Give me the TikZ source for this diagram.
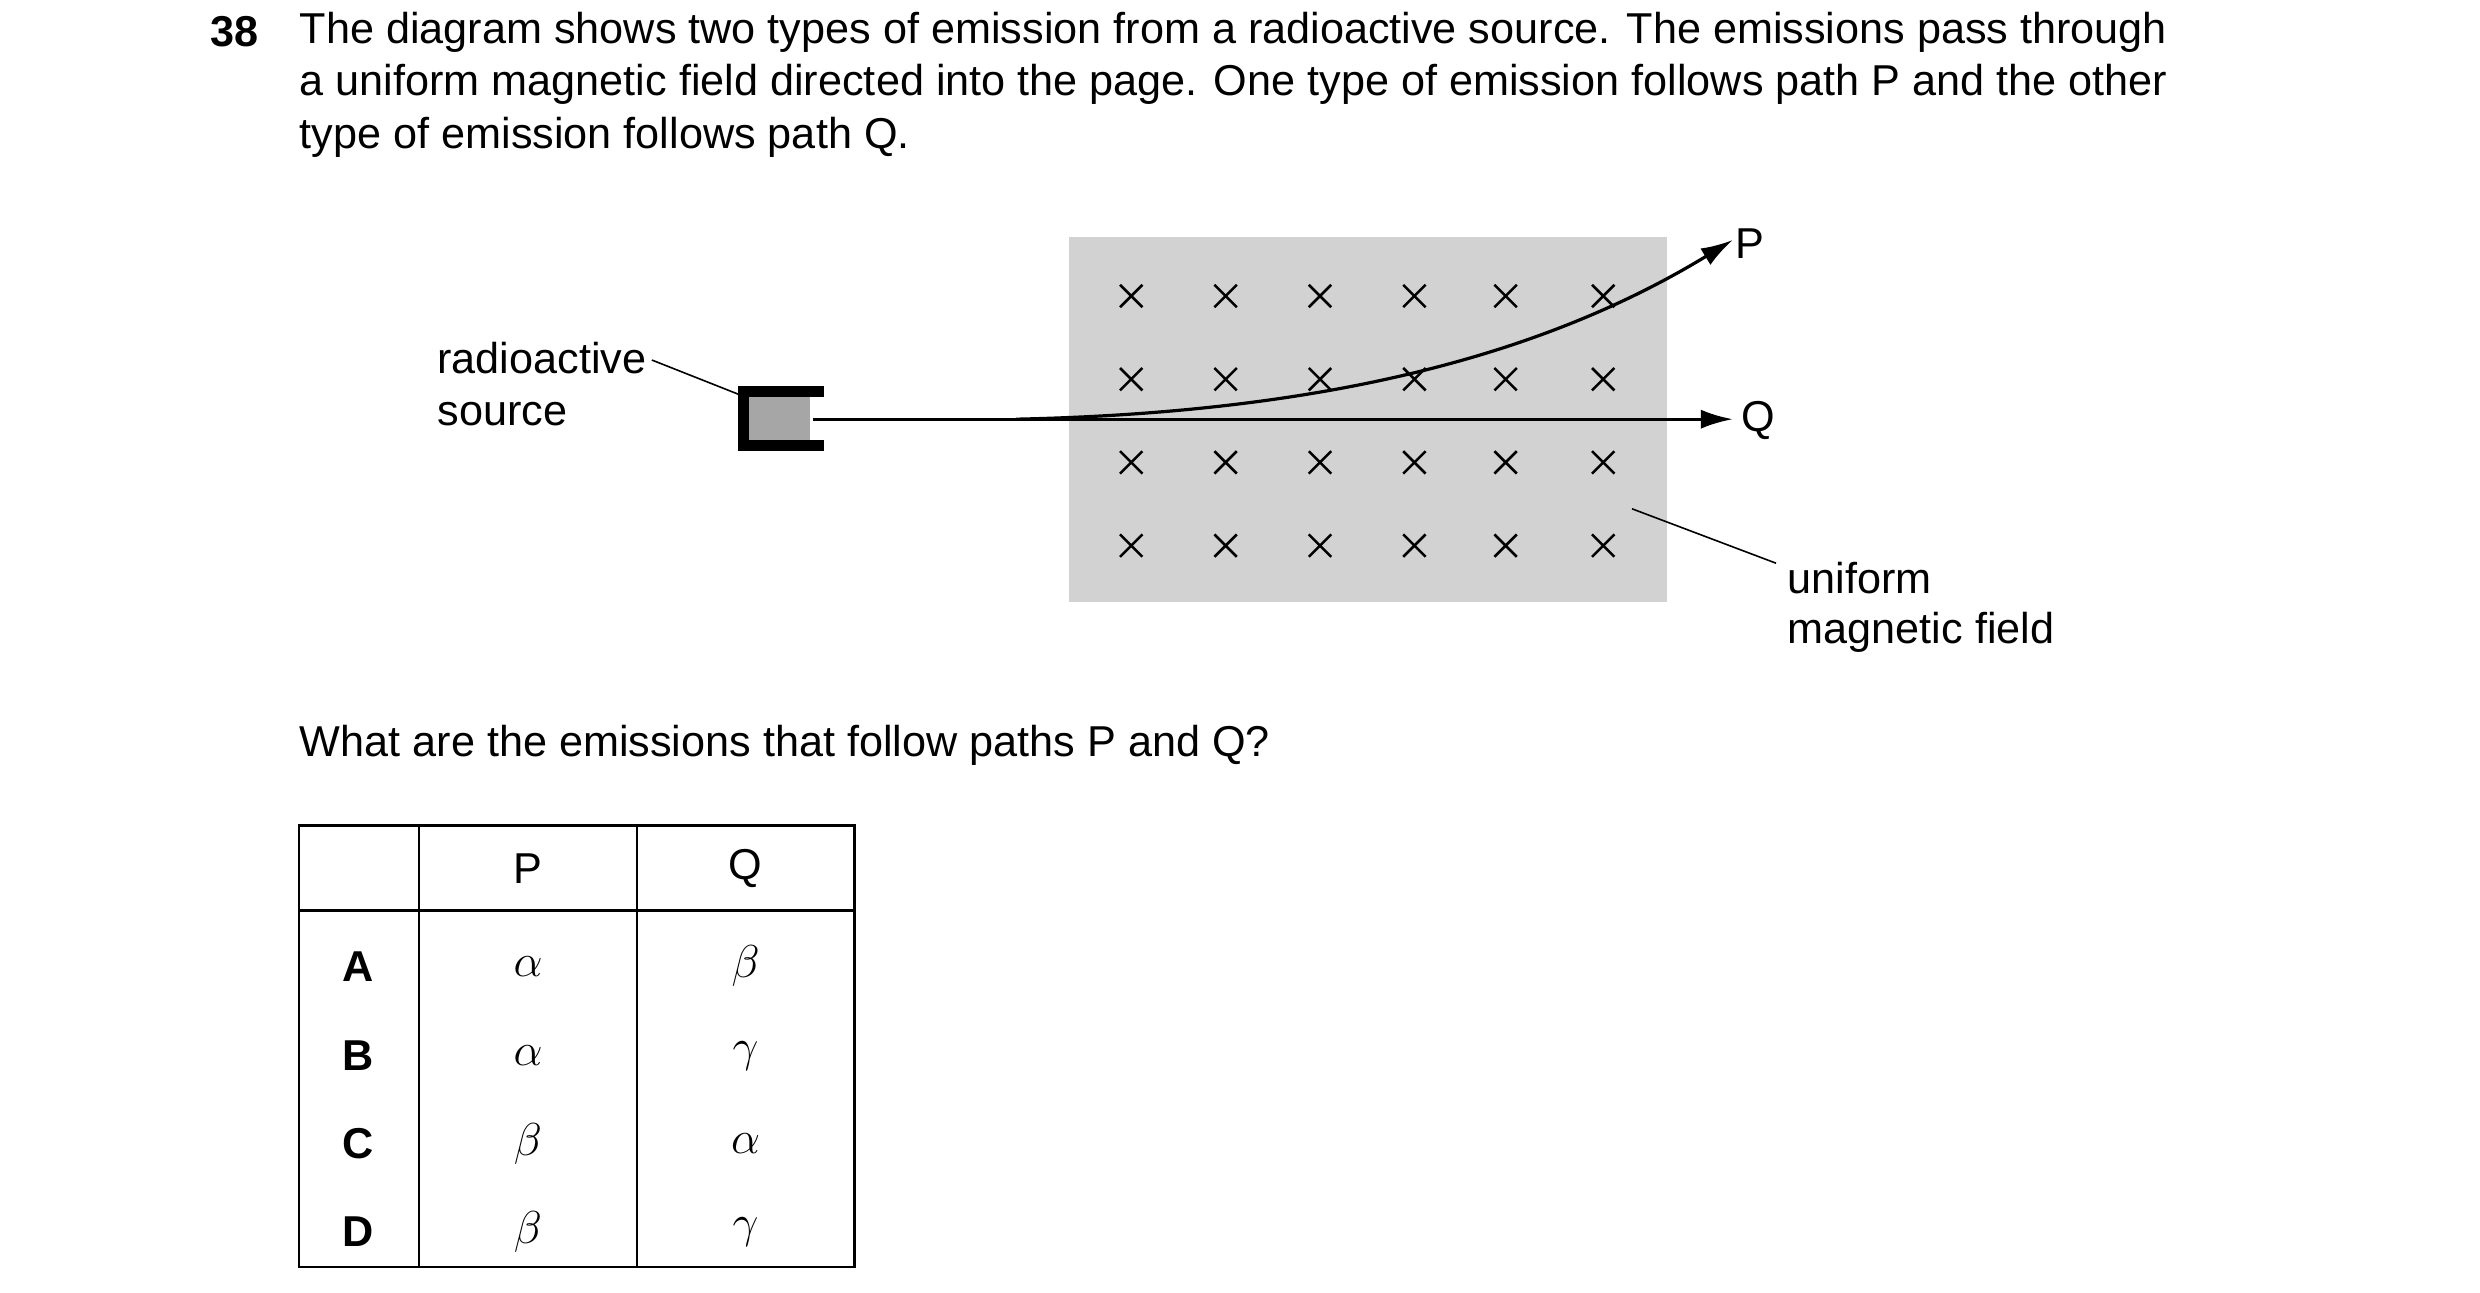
\documentclass[tikz,border=0pt]{standalone}
\usepackage{fontspec}
\setmainfont{Liberation Sans}
\newfontfamily\grk{Liberation Serif}
\usetikzlibrary{arrows.meta}
\begin{document}
\begin{tikzpicture}[x=0.5pt,y=-0.5pt,
  txt/.style={anchor=west,inner sep=0pt,font=\fontsize{13.5}{16}\selectfont},
  cross/.style={line width=0.8pt},
  lead/.style={line width=0.5pt},
  path/.style={line width=1pt,-{Latex[length=10pt,width=6pt]}},
  cell/.style={inner sep=0pt,font=\fontsize{13.5}{16}\selectfont},
  let/.style={cell,font=\fontsize{13.5}{16}\selectfont\bfseries},
  gk/.style={cell,font=\fontsize{14}{16}\selectfont\grk}]
\useasboundingbox (0,0) rectangle (1550,807.5);
\node[txt,font=\fontsize{13.5}{16}\selectfont\bfseries] (num) at (131,20) {38};
\node[txt] (l1) at (187,20) {The diagram shows two types of emission from a radioactive source. The emissions pass through};
\node[txt] (l2) at (187,53) {a uniform magnetic field directed into the page. One type of emission follows path P and the other};
\node[txt] (l3) at (187,86) {type of emission follows path Q.};
% field
\fill[gray!35] (668,148) rectangle (1042,376);
\foreach \x in {707,766,825,884,941,1002}
  \foreach \y in {185,237,289,341}
    \draw[cross] (\x-7,\y-7) -- (\x+7,\y+7) (\x-7,\y+7) -- (\x+7,\y-7);
% source
\fill[black] (461,241) rectangle (515,282);
\fill[gray!70] (468,248) rectangle (506,275);
\fill[white] (506,248) rectangle (515.5,275);
\coordinate (src) at (508,262);
\coordinate (bend) at (635,262);
\coordinate (pend) at (1083,150);
\coordinate (qend) at (1083,262);
\draw[path] (src) -- (qend);
\draw[path] (bend) .. controls (820,258) and (960,225) .. (pend);
\node[txt] (P) at (1084,152) {P};
\node[txt] (Q) at (1088,263) {Q};
\node[txt] (ra) at (273,224) {radioactive};
\node[txt] (so) at (273,259) {source};
\coordinate (rs) at (463,247);
\draw[lead] (ra.east) ++(3,1) -- (rs);
\node[txt] (u1) at (1117,361) {uniform};
\node[txt] (u2) at (1117,395) {magnetic field};
\coordinate (uf) at (1020,318);
\draw[lead] (uf) -- (1110,352);
\node[txt] (qq) at (187,466) {What are the emissions that follow paths P and Q?};
% table
\draw[line width=0.8pt] (187,516) rectangle (534,792);
\draw[line width=0.8pt] (262,516) -- (262,792) (398,516) -- (398,792) (187,569) -- (534,569);
\node[cell] (hP) at (330,543) {P};
\node[cell] (hQ) at (466,543) {Q};
\foreach \y/\L/\a/\b [count=\i] in {604/A/\ensuremath{\alpha}/\ensuremath{\beta},660/B/\ensuremath{\alpha}/\ensuremath{\gamma},715/C/\ensuremath{\beta}/\ensuremath{\alpha},770/D/\ensuremath{\beta}/\ensuremath{\gamma}}{
  \node[let] (r\i) at (224,\y) {\L};
  \node[gk] (p\i) at (330,\y) {$\mathrm{\a}$};
  \node[gk] (q\i) at (466,\y) {$\b$};
}
\end{tikzpicture}
\end{document}
